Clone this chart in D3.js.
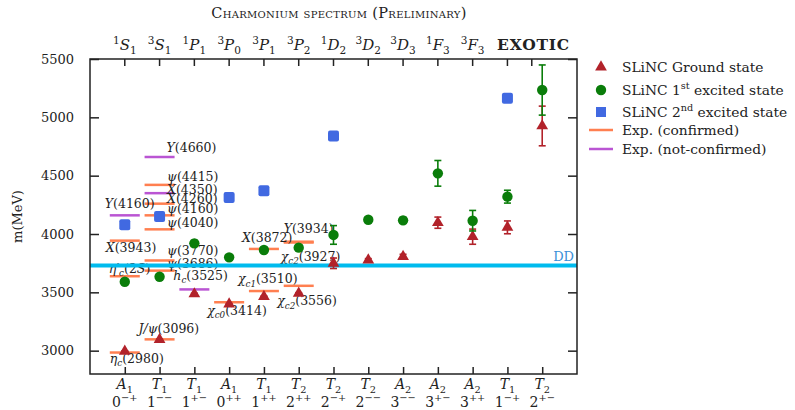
<!DOCTYPE html>
<html>
<head>
<meta charset="utf-8">
<script src="https://cdn.jsdelivr.net/npm/d3@7"></script>
<style>
  body { margin: 0; background: #fff; }
  svg { display: block; }
  text { font-family: 'DejaVu Serif', serif; fill: #222; }
</style>
</head>
<body>
<div id="chart"></div>
<script>
// ── Categories (lattice irreps, J^PC, spectroscopic labels) ──
const irreps = ['*A*_{1}', '*T*_{1}', '*T*_{1}', '*A*_{1}', '*T*_{1}', '*T*_{2}', '*T*_{2}',
                '*T*_{2}', '*A*_{2}', '*A*_{2}', '*A*_{2}', '*T*_{1}', '*T*_{2}'];
const jpc = ['0^{−+}', '1^{−−}', '1^{+−}', '0^{++}', '1^{++}', '2^{++}', '2^{−+}',
             '2^{−−}', '3^{−−}', '3^{+−}', '3^{++}', '1^{−+}', '2^{+−}'];
const waves = ['^{1}*S*_{1}', '^{3}*S*_{1}', '^{1}*P*_{1}', '^{3}*P*_{0}', '^{3}*P*_{1}', '^{3}*P*_{2}',
               '^{1}*D*_{2}', '^{3}*D*_{2}', '^{3}*D*_{3}', '^{1}*F*_{3}', '^{3}*F*_{3}'];
const exoticLabel = 'EXOTIC';
const yTicks = [3000, 3500, 4000, 4500, 5000, 5500];

// ── SLiNC masses (MeV) and errors ──
const groundMass = [2995, 3095, 3486, 3400, 3463, 3492, 3749, 3777, 3806, 4097, 3977, 4057, 4926];
const groundErr  = [4, 4, 6, 4, 5, 5, 45, 12, 20, 48, 65, 55, 170];
const firstMass  = [3591, 3634, 3920, 3800, 3863, 3883, 3992, 4122, 4117, 4520, 4114, 4320, 5234];
const firstErr   = [8, 8, 25, 10, 10, 25, 80, 22, 25, 110, 88, 55, 215];
const secondMass = [4080, 4149, null, 4312, 4371, null, 4840, null, null, null, null, 5163, null];
const secondErr  = [15, 15, null, 15, 15, null, 30, null, null, null, null, 25, null];

// ── Experimental states ──
const expNames = ['*η_{c}*(2980)', '*η′_{c}*(2*S*)', '*X*(3943)', '*Y*(4160)', '*J/ψ*(3096)',
                  '*ψ*(3686)', '*ψ*(3770)', '*ψ*(4040)', '*ψ*(4160)', '*X*(4260)', '*X*(4350)',
                  '*ψ*(4415)', '*Y*(4660)', '*h_{c}*(3525)', '*χ_{c0}*(3414)', '*χ_{c1}*(3510)',
                  '*X*(3872)', '*χ_{c2}*(3556)', '*χ_{c2}*(3927)', '*Y*(3934)'];
const expCat  = [0, 0, 0, 0, 1, 1, 1, 1, 1, 1, 1, 1, 1, 2, 3, 4, 4, 5, 5, 5];
const expMass = [2984, 3638, 3943, 4160, 3097, 3686, 3773, 4040, 4160, 4260, 4350,
                 4421, 4660, 3525, 3415, 3511, 3872, 3556, 3927, 3934];
const expConfirmed = [true, true, true, false, true, true, true, true, true, true, false,
                      true, false, false, true, true, true, true, true, true];
const ddThreshold = 3730;

// label offsets from (category centre, line) to text start / baseline
const labelDx = [-15, -16, -19, -20, -21, 7.5, 7.5, 7.5, 7.5, 7.5, 7.5, 7.5, 7, -21, -22, -26, -22, -21.5, -18, -15];
const labelDy = [10, -3.5, 11, -7, -6.5, -2.5, -5, -2.5, -2, -0.5, 1, -3.5, -5, -9.5, 12.5, -8, -7, 19.5, 18, -9];

const COL = {
  ground: '#b2222a',
  first: '#0a7d0a',
  second: '#4169e1',
  conf: '#ff7f50',
  notConf: '#ba55d3',
  dd: '#00bbee',
  ddText: '#3a90d8',
  axis: '#222'
};

const W = 795, H = 410;
const m = { left: 90, right: 577, top: 59, bottom: 374 };

const svg = d3.select('#chart').append('svg').attr('width', W).attr('height', H);

const x = d3.scaleLinear().domain([-1, 13]).range([m.left, m.right]);
const y = d3.scaleLinear().domain([2800, 5500]).range([m.bottom, m.top]);

// tiny markup: *..* italic, ^{..} superscript, _{..} subscript
function rich(sel, str, size) {
  const parts = [];
  let italic = false, i = 0;
  while (i < str.length) {
    const c = str[i];
    if (c === '*') { italic = !italic; i++; continue; }
    if ((c === '^' || c === '_') && str[i + 1] === '{') {
      const end = str.indexOf('}', i);
      parts.push({ t: str.slice(i + 2, end), italic, kind: c === '^' ? 'sup' : 'sub' });
      i = end + 1;
      continue;
    }
    const last = parts[parts.length - 1];
    if (last && last.kind === 'n' && last.italic === italic) last.t += c;
    else parts.push({ t: c, italic, kind: 'n' });
    i++;
  }
  let cur = 0;
  parts.forEach(p => {
    const target = p.kind === 'sup' ? -0.42 * size : p.kind === 'sub' ? 0.28 * size : 0;
    sel.append('tspan')
      .attr('dy', target - cur)
      .style('font-style', p.italic ? 'italic' : 'normal')
      .style('font-size', p.kind === 'n' ? size + 'px' : (0.7 * size) + 'px')
      .text(p.t);
    cur = target;
  });
}

// ── Experimental lines + labels ──
const expIdx = d3.range(expNames.length);
svg.append('g').selectAll('line').data(expIdx).enter().append('line')
  .attr('x1', i => x(expCat[i]) - 15)
  .attr('x2', i => x(expCat[i]) + 15)
  .attr('y1', i => y(expMass[i]))
  .attr('y2', i => y(expMass[i]))
  .attr('stroke', i => expConfirmed[i] ? COL.conf : COL.notConf)
  .attr('stroke-width', 2.5);

const lab = svg.append('g');
expIdx.forEach(i => {
  const t = lab.append('text')
    .attr('x', x(expCat[i]) + labelDx[i])
    .attr('y', y(expMass[i]) + labelDy[i])
    .style('font-size', '12.5px');
  rich(t, expNames[i], 12.5);
});

// ── DD threshold ──
svg.append('line')
  .attr('x1', m.left).attr('x2', m.right)
  .attr('y1', y(ddThreshold)).attr('y2', y(ddThreshold))
  .attr('stroke', COL.dd).attr('stroke-width', 4);
svg.append('text')
  .attr('x', m.right - 3).attr('y', y(ddThreshold) - 5)
  .attr('text-anchor', 'end')
  .style('font-size', '13px').style('fill', COL.ddText)
  .text('DD');

// ── Error bars + markers ──
function errorBars(mass, err, color) {
  const g = svg.append('g');
  const idx = d3.range(mass.length).filter(i => mass[i] != null);
  idx.forEach(i => {
    const cx = x(i), lo = y(mass[i] - err[i]), hi = y(mass[i] + err[i]);
    g.append('line').attr('x1', cx).attr('x2', cx).attr('y1', lo).attr('y2', hi)
      .attr('stroke', color).attr('stroke-width', 1.6);
    [lo, hi].forEach(v => g.append('line').attr('x1', cx - 3.5).attr('x2', cx + 3.5)
      .attr('y1', v).attr('y2', v).attr('stroke', color).attr('stroke-width', 1.6));
  });
  return idx;
}

const tri = d3.symbol().type(d3.symbolTriangle).size(60);

const gIdx = errorBars(groundMass, groundErr, COL.ground);
svg.append('g').selectAll('path').data(gIdx).enter().append('path')
  .attr('d', tri)
  .attr('transform', i => `translate(${x(i)},${y(groundMass[i])})`)
  .attr('fill', COL.ground);

const fIdx = errorBars(firstMass, firstErr, COL.first);
svg.append('g').selectAll('circle').data(fIdx).enter().append('circle')
  .attr('cx', i => x(i)).attr('cy', i => y(firstMass[i])).attr('r', 5.2)
  .attr('fill', COL.first);

const sIdx = errorBars(secondMass, secondErr, COL.second);
svg.append('g').selectAll('rect').data(sIdx).enter().append('rect')
  .attr('x', i => x(i) - 5.5).attr('y', i => y(secondMass[i]) - 5.5)
  .attr('width', 11).attr('height', 11).attr('rx', 2)
  .attr('fill', COL.second);

// ── Frame & axes ──
svg.append('rect')
  .attr('x', m.left).attr('y', m.top)
  .attr('width', m.right - m.left).attr('height', m.bottom - m.top)
  .attr('fill', 'none').attr('stroke', COL.axis).attr('stroke-width', 1.5);

const yAxis = svg.append('g').attr('transform', `translate(${m.left},0)`)
  .call(d3.axisLeft(y).tickValues(yTicks).tickSize(-9).tickPadding(16).tickFormat(d3.format('d')));
svg.append('g').attr('transform', `translate(${m.right},0)`)
  .call(d3.axisRight(y).tickValues(yTicks).tickSize(-9).tickFormat(''));
svg.selectAll('.domain').remove();
svg.selectAll('.tick line').attr('stroke', COL.axis).attr('stroke-width', 1.5);
yAxis.selectAll('text').style('font-size', '13px').style('font-family', "'DejaVu Serif', serif").attr('fill', '#222');

const bottom = svg.append('g').attr('transform', `translate(0,${m.bottom})`)
  .call(d3.axisBottom(x).tickValues(d3.range(13)).tickSize(-7).tickFormat(''));
bottom.select('.domain').remove();
bottom.selectAll('.tick line').attr('stroke', COL.axis).attr('stroke-width', 1.5);

const topTicks = d3.range(12).concat([11.7]);
svg.append('g').selectAll('line').data(topTicks).enter().append('line')
  .attr('x1', d => x(d)).attr('x2', d => x(d))
  .attr('y1', m.top).attr('y2', m.top + 7)
  .attr('stroke', COL.axis).attr('stroke-width', 1.5);

// bottom labels
irreps.forEach((s, i) => {
  const t = svg.append('text').attr('x', x(i)).attr('y', 389)
    .attr('text-anchor', 'middle').style('font-size', '14px');
  rich(t, s, 14);
  const t2 = svg.append('text').attr('x', x(i)).attr('y', 407)
    .attr('text-anchor', 'middle').style('font-size', '14px');
  rich(t2, jpc[i], 14);
});

// top labels
waves.forEach((s, i) => {
  const t = svg.append('text').attr('x', x(i)).attr('y', 50)
    .attr('text-anchor', 'middle').style('font-size', '15px');
  rich(t, s, 15);
});
svg.append('text').attr('x', x(11.75)).attr('y', 50)
  .attr('text-anchor', 'middle')
  .style('font-size', '15.5px').style('font-weight', 'bold').style('letter-spacing', '0.8px')
  .text(exoticLabel);

// title
svg.append('text').attr('x', 339).attr('y', 18)
  .attr('text-anchor', 'middle')
  .style('font-size', '14.5px').style('font-variant', 'small-caps').style('letter-spacing', '0.3px')
  .text('Charmonium spectrum (Preliminary)');

// y label
svg.append('text')
  .attr('transform', `translate(22,${(m.top + m.bottom) / 2}) rotate(-90)`)
  .attr('text-anchor', 'middle')
  .style('font-size', '13px')
  .text('m(MeV)');

// ── Legend ──
const leg = svg.append('g');
const legRows = [67, 90, 112, 130, 149];
leg.append('path').attr('d', tri).attr('transform', `translate(601,${legRows[0]})`).attr('fill', COL.ground);
leg.append('circle').attr('cx', 601).attr('cy', legRows[1]).attr('r', 5.2).attr('fill', COL.first);
leg.append('rect').attr('x', 596).attr('y', legRows[2] - 5).attr('width', 10).attr('height', 10).attr('fill', COL.second);
leg.append('line').attr('x1', 589).attr('x2', 613).attr('y1', legRows[3]).attr('y2', legRows[3])
  .attr('stroke', COL.conf).attr('stroke-width', 2.5);
leg.append('line').attr('x1', 589).attr('x2', 613).attr('y1', legRows[4]).attr('y2', legRows[4])
  .attr('stroke', COL.notConf).attr('stroke-width', 2.5);
const legTexts = ['SLiNC Ground state', 'SLiNC 1^{st} excited state', 'SLiNC 2^{nd} excited state',
                  'Exp. (confirmed)', 'Exp. (not-confirmed)'];
legTexts.forEach((s, i) => {
  const t = leg.append('text').attr('x', 622).attr('y', legRows[i] + 5).style('font-size', '13.8px');
  rich(t, s, 13.8);
});
</script>
</body>
</html>
